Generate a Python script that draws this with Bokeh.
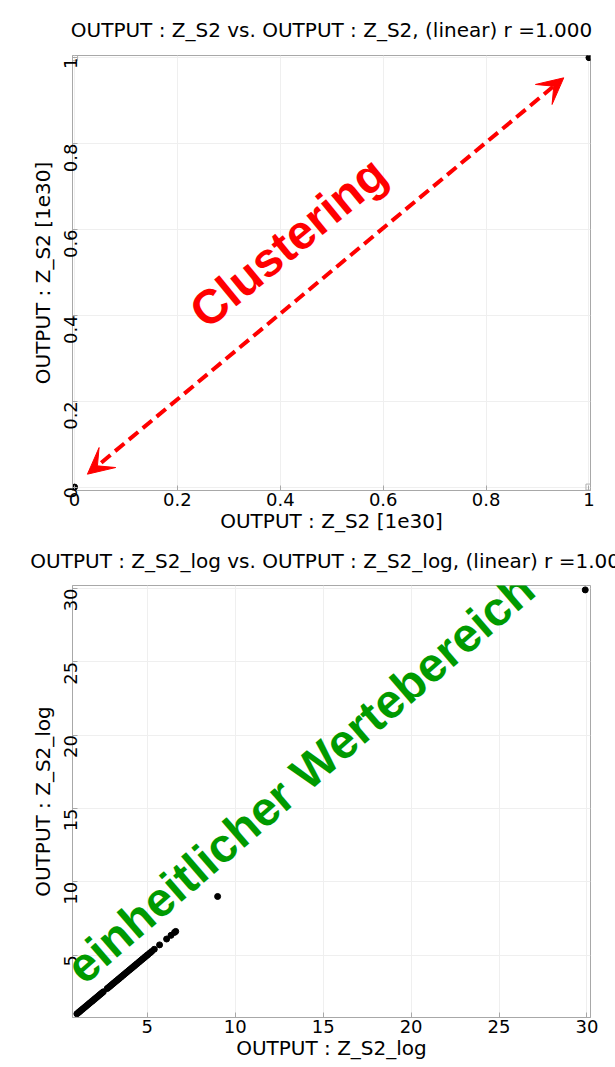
import math
import re
from bokeh.plotting import figure
from bokeh.layouts import column
from bokeh.models import Arrow, VeeHead, Label, Range1d, FixedTicker
from bokeh.embed import file_html
from bokeh.resources import INLINE

# ---------------- data ----------------
# top panel: OUTPUT : Z_S2 (units of 1e30)
top_x = [0.0, 1.0]
top_y = [0.0, 1.0]
top_corner_x = [0.0, 1.0]
top_corner_y = [1.0, 0.0]
top_ticks = [0, 0.2, 0.4, 0.6, 0.8, 1.0]
top_tick_labels = ["0", "0.2", "0.4", "0.6", "0.8", "1"]

# bottom panel: OUTPUT : Z_S2_log
bot_vals = [1.0, 1.08, 1.15, 1.22, 1.3, 1.37, 1.45, 1.52, 1.6, 1.68, 1.75, 1.83,
            1.9, 1.98, 2.05, 2.13, 2.2, 2.28, 2.35, 2.42, 2.5, 2.72, 2.8, 2.88,
            2.95, 3.03, 3.1, 3.18, 3.25, 3.33, 3.4, 3.48, 3.55, 3.63, 3.7, 3.78,
            3.85, 3.93, 4.0, 4.08, 4.15, 4.23, 4.3, 4.38, 4.45, 4.53, 4.6, 4.68,
            4.75, 4.83, 4.9, 4.98, 5.05, 5.15, 5.25, 5.4, 5.7, 6.1, 6.35, 6.55,
            6.62, 9.0, 29.9]
bot_x = bot_vals
bot_y = bot_vals
bot_ticks = [5, 10, 15, 20, 25, 30]

FONT = "DejaVu Sans"
AXIS_COLOR = "#a8a8a8"
GRID_COLOR = "#efefef"


def style(p, ticks, labels=None):
    p.xaxis.axis_label_text_font_style = "normal"
    p.yaxis.axis_label_text_font_style = "normal"
    for ax in p.xaxis + p.yaxis:
        ax.ticker = FixedTicker(ticks=ticks)
        if labels:
            ax.major_label_overrides = {t: l for t, l in zip(ticks, labels)}
        ax.axis_line_color = AXIS_COLOR
        ax.major_tick_line_color = AXIS_COLOR
        ax.major_tick_in = 5
        ax.major_tick_out = 0
        ax.minor_tick_line_color = None
        ax.major_label_text_font = FONT
        ax.major_label_text_font_size = "18px"
        ax.major_label_text_color = "black"
        ax.axis_label_text_font = FONT
        ax.axis_label_text_font_size = "20px"
        ax.axis_label_text_color = "black"
        ax.major_label_standoff = 2
        ax.axis_label_standoff = 0
    for ax in p.yaxis:
        ax.major_label_standoff = 2
        ax.axis_label_standoff = 0
    p.yaxis.major_label_orientation = math.pi / 2
    p.grid.grid_line_color = GRID_COLOR
    p.outline_line_color = AXIS_COLOR
    p.title.text_font = FONT
    p.title.text_font_size = "20px"
    p.title.text_font_style = "normal"
    p.title.text_color = "black"
    p.title.align = "center"
    p.title.vertical_align = "top"


# ---------------- top figure ----------------
p1 = figure(width=615, height=535, output_backend="svg", toolbar_location=None,
            x_range=Range1d(-0.004, 1.003), y_range=Range1d(-0.008, 1.005),
            frame_width=518, frame_height=435,
            min_border_left=66, min_border_right=29, min_border_top=55, min_border_bottom=45,
            title="OUTPUT : Z_S2 vs. OUTPUT : Z_S2, (linear) r =1.000",
            x_axis_label="OUTPUT : Z_S2 [1e30]", y_axis_label="OUTPUT : Z_S2 [1e30]")
style(p1, top_ticks, top_tick_labels)
p1.title.standoff = 24
p1.scatter(top_corner_x, top_corner_y, marker="square", size=6, fill_color=None,
           line_color="#b0b0b0", line_width=1)
p1.scatter(top_x, top_y, size=6, color="black")

p1.add_layout(Arrow(start=VeeHead(size=26, fill_color="red", line_color="red"),
                    end=VeeHead(size=26, fill_color="red", line_color="red"),
                    x_start=0.025, y_start=0.03, x_end=0.951, y_end=0.953,
                    line_color="red", line_width=4, line_dash="12 6"))
p1.add_layout(Label(x=0.415, y=0.57, text="Clustering", angle=39.5, angle_units="deg",
                    text_align="center", text_baseline="middle",
                    text_font="Liberation Sans", text_font_style="bold",
                    text_font_size="48px", text_color="red"))

# ---------------- bottom figure ----------------
p2 = figure(width=615, height=532, output_backend="svg", toolbar_location=None,
            x_range=Range1d(0.75, 30.2), y_range=Range1d(0.75, 30.2),
            frame_width=518, frame_height=432,
            min_border_left=72, min_border_right=25, min_border_top=50, min_border_bottom=50,
            title="OUTPUT : Z_S2_log vs. OUTPUT : Z_S2_log, (linear) r =1.000",
            x_axis_label="OUTPUT : Z_S2_log", y_axis_label="OUTPUT : Z_S2_log")
style(p2, bot_ticks)
p2.title.standoff = 21
p2.scatter(bot_x, bot_y, size=6, color="black")
p2.add_layout(Label(x=13.7, y=17.1, text="einheitlicher Wertebereich", angle=40.8,
                    angle_units="deg", text_align="center", text_baseline="middle",
                    text_font="Liberation Sans", text_font_style="bold",
                    text_font_size="48px", text_color="#009a00"))

layout = column(p1, p2, spacing=0)
html = file_html(layout, INLINE)
html = re.sub(r"<body([^>]*)>", r'<body\1 style="margin:0;padding:0">', html, count=1)
open("out.html", "w").write(html)
